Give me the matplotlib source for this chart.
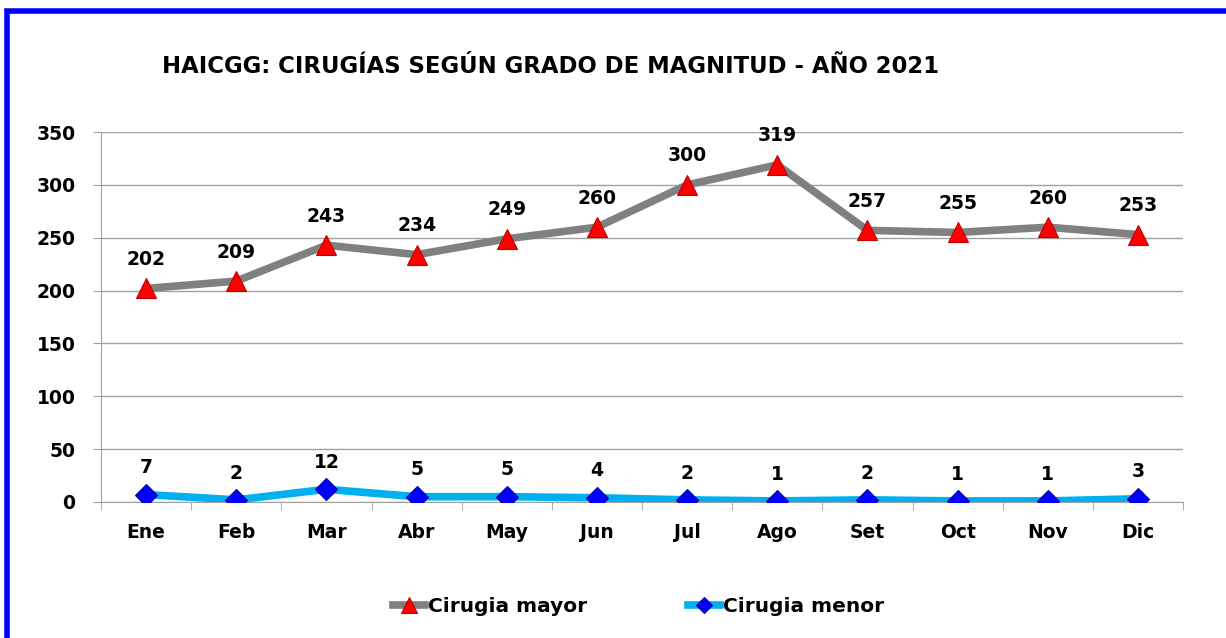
import matplotlib.pyplot as plt
from matplotlib.patches import Rectangle

# Datos
meses = ['Ene', 'Feb', 'Mar', 'Abr', 'May', 'Jun', 'Jul', 'Ago', 'Set', 'Oct', 'Nov', 'Dic']
cirugia_mayor = [202, 209, 243, 234, 249, 260, 300, 319, 257, 255, 260, 253]
cirugia_menor = [7, 2, 12, 5, 5, 4, 2, 1, 2, 1, 1, 3]

plt.rcParams['font.family'] = ['DejaVu Sans']
plt.rcParams['font.weight'] = 'bold'

fig = plt.figure(figsize=(12.26, 6.38), dpi=100)
ax = fig.add_axes([0.0824, 0.2132, 0.8826, 0.5798])

x = list(range(len(meses)))
ax.plot(x, cirugia_mayor, color='#808080', lw=5.5, marker='^', ms=15,
        mfc='#FF0000', mec='#C00000', mew=0.8, label='Cirugia mayor', zorder=3)
ax.plot(x, cirugia_menor, color='#00B0F0', lw=5.5, marker='D', ms=11,
        mfc='#0000FF', mec='#0000A0', mew=0.8, label='Cirugia menor', zorder=3)

for xi, v in zip(x, cirugia_mayor):
    ax.annotate(str(v), (xi, v), xytext=(0, 14), textcoords='offset points',
                ha='center', va='bottom', fontsize=13.5, fontweight='bold')
for xi, v in zip(x, cirugia_menor):
    ax.annotate(str(v), (xi, v), xytext=(0, 12.5), textcoords='offset points',
                ha='center', va='bottom', fontsize=13.5, fontweight='bold')

ax.set_xlim(-0.5, len(meses) - 0.5)
ax.set_ylim(0, 350)
ax.set_yticks(range(0, 351, 50))
ax.set_xticks(x)
ax.set_xticklabels(meses)
ax.set_xticks([i - 0.5 for i in range(len(meses) + 1)], minor=True)
ax.tick_params(axis='x', which='major', length=0, pad=15, labelsize=13.5)
ax.tick_params(axis='x', which='minor', length=6, color='#A0A0A0', direction='out')
ax.tick_params(axis='y', length=6, color='#A0A0A0', pad=12.5, labelsize=13.5)
for lbl in ax.get_xticklabels() + ax.get_yticklabels():
    lbl.set_fontweight('bold')

ax.grid(axis='y', color='#A0A0A0', lw=1)
ax.set_axisbelow(True)
for s in ['top', 'right']:
    ax.spines[s].set_visible(False)
ax.spines['left'].set_color('#A0A0A0')
ax.spines['bottom'].set_color('#A0A0A0')

fig.text(0.449, 0.895, 'HAICGG: CIRUGÍAS SEGÚN GRADO DE MAGNITUD - AÑO 2021',
         ha='center', va='center', fontsize=16.4, fontweight='bold')

fig.legend(loc='center', bbox_to_anchor=(0.521, 0.05), ncol=2, frameon=False,
           handlelength=1.6, handletextpad=0.15, columnspacing=5.0,
           markerscale=0.75, prop={'weight': 'bold', 'size': 14.5})

# Borde azul
fig.patches.append(Rectangle((7 / 1226, -0.1), 1.2, (638 - 9) / 638 + 0.1 - 0.003,
                             transform=fig.transFigure, fill=False,
                             edgecolor='#0000FF', lw=4))

fig.savefig('out.png', dpi=100)
